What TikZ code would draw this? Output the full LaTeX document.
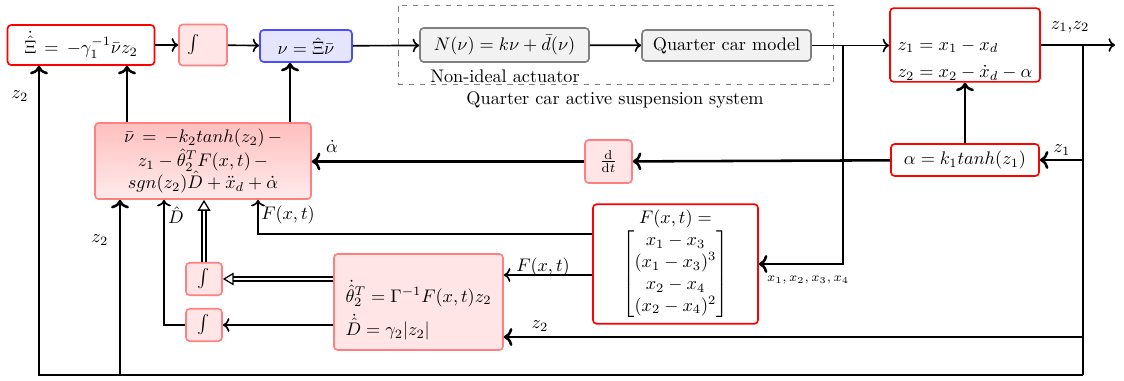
\documentclass[tikz,border=0pt]{standalone}
\usepackage{amsmath}
\usepackage{amssymb}
\usetikzlibrary{calc, positioning}
\usetikzlibrary{arrows.meta}

\def\pxu{0.0193cm}

\begin{document}
\begin{tikzpicture}[x=0.0193cm, y=-0.0193cm, line width=0.9pt,
  redbox/.style={draw=red, fill=white, rounded corners=2pt, line width=0.9pt},
  pinkbox/.style={draw=red!50, fill=red!10, rounded corners=2pt, line width=0.9pt},
  pinkgrad/.style={draw=red!50, top color=red!25, bottom color=red!8, rounded corners=2pt, line width=0.9pt},
  bluebox/.style={draw=blue!70, fill=blue!10, rounded corners=2pt, line width=0.9pt},
  graybox/.style={draw=gray, fill=gray!10, rounded corners=2pt, line width=0.9pt},
  heavy/.style={line width=1.4pt},
  dbl/.style={double, double distance=1.6pt, line width=0.7pt, -{Triangle[open, length=6pt, width=7pt]}}]
\useasboundingbox (0,0) rectangle (1124,381);

% top row
\node[redbox, minimum width=147*\pxu, minimum height=40*\pxu] (xi) at (81,45) {$\dot{\hat{\Xi}} \,=\, -\gamma_1^{-1}\bar{\nu} z_2$};
\node[pinkbox, minimum width=48*\pxu, minimum height=41*\pxu] (int0) at (203,45) {$\int\quad$};
\node[bluebox, minimum width=92*\pxu, minimum height=32*\pxu] (nu) at (306,46) {$\nu = \hat{\Xi}\bar{\nu}$};
\node[draw=gray, dashed, thin, minimum width=435*\pxu, minimum height=79*\pxu] (sys) at (615.5,44.5) {};
\node[graybox, minimum width=169*\pxu, minimum height=34*\pxu] (act) at (504.5,45) {$N(\nu) = k\nu + \bar{d}(\nu)$};
\node (actlbl) at (505,76) {Non-ideal actuator};
\node[graybox, minimum width=169*\pxu, minimum height=31*\pxu] (qcm) at (726.5,45.5) {Quarter car model};
\node (syslbl) at (615,100) {Quarter car active suspension system};
\node[redbox, minimum width=150*\pxu, minimum height=70*\pxu, inner ysep=1pt, align=left] (zbox) at (965,45) {\mbox{}\\[10pt]$z_1 = x_1 - x_d$\\[3pt]$z_2 = x_2 - \dot{x}_d - \alpha$};

% middle row
\node[redbox, minimum width=148*\pxu, minimum height=32*\pxu] (alpha) at (965,160) {$\alpha = k_1 tanh(z_1)$};
\node[pinkbox, minimum width=47*\pxu, minimum height=43*\pxu] (ddt) at (608.5,161.5) {$\frac{\mathrm{d}}{\mathrm{d}t}$};
\node[pinkgrad, minimum width=216*\pxu, minimum height=74*\pxu, align=center] (nubar) at (203,161)
  {$\bar{\nu} \,=\, -k_2 tanh(z_2) \,-$\\$z_1 - \hat{\theta}_2^T F(x,t) \,-$\\$sgn(z_2)\hat{D} + \ddot{x}_d + \dot{\alpha}$};

% bottom row
\node[redbox, minimum width=165*\pxu, minimum height=116*\pxu, align=center] (fbox) at (675.5,264)
  {$F(x,t) =$\\$\begin{bmatrix} x_1 - x_3\\ (x_1-x_3)^3\\ x_2-x_4\\ (x_2-x_4)^2\end{bmatrix}$};
\node[pinkbox, minimum width=169*\pxu, minimum height=96*\pxu, align=left] (adapt) at (418.5,302)
  {\mbox{}\\[9pt]$\dot{\hat{\theta}}_2^T = \Gamma^{-1}F(x,t)z_2$\\[3pt]$\dot{\hat{D}} = \gamma_2|z_2|$};
\node[pinkbox, minimum width=36*\pxu, minimum height=30*\pxu] (int1) at (204,279) {$\int$};
\node[pinkbox, minimum width=36*\pxu, minimum height=30*\pxu] (int2) at (204,325) {$\int$};

% branch points
\coordinate (br1) at (843,45);
\coordinate (br2) at (1083,45);
\coordinate (out) at (1115,45);
\coordinate (br3) at (1083,337);
\coordinate (bot2) at (1083,375);
\coordinate (bot1) at (120,375);

% forward path
\draw[->] (xi) -- (int0);
\draw[->] (int0) -- (nu);
\draw[->] (nu) -- (act);
\draw[->] (act) -- (qcm);
\draw[->] (qcm.east) -- (zbox.west |- qcm.east);
\draw[->] (zbox) -- (out);
\draw (br2) -- (bot2);
\draw[->, heavy] (br1) |- (fbox.east);

% virtual control
\draw[->, heavy] (br2 |- alpha) -- (alpha);
\draw[->, heavy] (alpha) -- (zbox);
\draw[->, heavy] (alpha) -- (ddt);
\draw[->, heavy] (ddt.west) -- (nubar.east |- ddt.west);

% control law
\draw[->, heavy] (nubar.north -| 127,0) -- (xi.south -| 127,0);
\draw[->, heavy] (nubar.north -| 290,0) -- (nu.south -| 290,0);
\draw[->, heavy] (bot2) -| (xi.south -| 39,0);
\draw[->, heavy] (bot1) -- (nubar.south -| bot1);

% adaptation
\draw[->, heavy] (br3) -- (adapt.east |- br3);
\draw[->] (fbox.west |- 0,234) -| (nubar.south -| 258,0);
\draw[->] (fbox.west |- 0,275) -- (adapt.east |- 0,275);
\draw[dbl] (adapt.west |- int1) -- (int1);
\draw[dbl] (int1) -- (nubar.south -| int1);
\draw[->] (adapt.west |- int2) -- (int2);
\draw[->] (int2) -| (nubar.south -| 164,0);

% labels
\node (lz12) at (1070,27) {$z_1$,$z_2$};
\node (lz1) at (1062,150) {$z_1$};
\node (lz2a) at (20,96) {$z_2$};
\node (lz2b) at (100,240) {$z_2$};
\node (lz2c) at (540,326) {$z_2$};
\node (lalpha) at (332,146) {$\dot{\alpha}$};
\node (lF1) at (288,215) {$F(x,t)$};
\node (lF2) at (543,267) {$F(x,t)$};
\node (lD) at (176,215) {$\hat{D}$};
\node[font=\scriptsize] (lx) at (808,280) {$x_1,x_2,x_3,x_4$};
\end{tikzpicture}
\end{document}
